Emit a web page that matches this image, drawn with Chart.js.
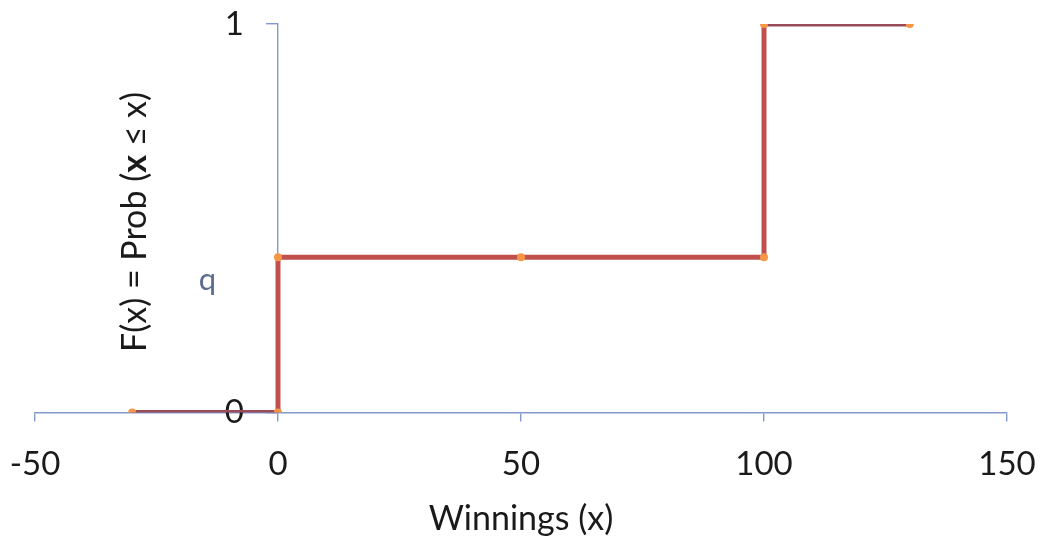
<!DOCTYPE html>
<html>
<head>
<meta charset="utf-8">
<script src="https://cdn.jsdelivr.net/npm/chart.js@4.4.1/dist/chart.umd.min.js"></script>
<style>
  html, body { margin: 0; padding: 0; background: #ffffff; }
  #wrap { width: 1044px; height: 539px; }
</style>
</head>
<body>
<div id="wrap"><canvas id="c" width="1044" height="539"></canvas></div>
<script>
// ---- data ----
const xValues = [-30, 0, 0, 50, 100, 100, 130];
const yValues = [0, 0, 0.4, 0.4, 0.4, 1, 1];
const xTickValues = [-50, 0, 50, 100, 150];
const yTickValues = [0, 1];
const yTickLabels = ['0', '1'];
const xAxisTitle = 'Winnings (x)';
const yAxisTitleParts = [['F(x) = Prob (', false], ['x', true], [' \u2264 x)', false]];
const qLabel = 'q';
const qLabelAt = { x: -14.5, y: 0.34 };

const FONT = 'Lato, "Open Sans", "DejaVu Sans", sans-serif';
const AXIS_BLUE = '#819bd0';
const TEXT = '#1a1a1a';

const points = xValues.map((x, i) => ({ x: x, y: yValues[i] }));

const extraText = {
  id: 'extraText',
  beforeDraw(chart) {
    // move y tick labels away from the crossing axis
    const ys = chart.scales.y;
    const items = ys.getLabelItems(chart.chartArea);
    items.forEach(it => {
      if (!it._shifted) { it.options.translation[0] -= 34; it._shifted = true; }
    });
  },
  afterDraw(chart) {
    const ctx = chart.ctx;
    const xs = chart.scales.x, ys = chart.scales.y;
    // q label
    ctx.save();
    ctx.font = '31px ' + FONT;
    ctx.fillStyle = '#5b6d8c';
    ctx.textAlign = 'center';
    ctx.textBaseline = 'middle';
    ctx.fillText(qLabel, xs.getPixelForValue(qLabelAt.x), ys.getPixelForValue(qLabelAt.y));
    ctx.restore();
    // y axis title with bold x
    ctx.save();
    const cx = 135, cy = 222;
    ctx.translate(cx, cy);
    ctx.rotate(-Math.PI / 2);
    ctx.fillStyle = TEXT;
    ctx.textBaseline = 'middle';
    let total = 0;
    const widths = yAxisTitleParts.map(([t, b]) => {
      ctx.font = (b ? 'bold ' : '') + '34px ' + FONT;
      const w = ctx.measureText(t).width;
      total += w;
      return w;
    });
    let x = -total / 2;
    yAxisTitleParts.forEach(([t, b], i) => {
      ctx.font = (b ? 'bold ' : '') + '34px ' + FONT;
      ctx.textAlign = 'left';
      ctx.fillText(t, x, 0);
      x += widths[i];
    });
    ctx.restore();
  }
};

new Chart(document.getElementById('c'), {
  type: 'scatter',
  data: {
    datasets: [{
      data: points,
      showLine: true,
      borderColor: '#c0504d',
      borderWidth: 5,
      segment: {
        borderColor: (c) => (c.p0.parsed.y === c.p1.parsed.y && (c.p0.parsed.y === 0 || c.p0.parsed.y === 1)) ? '#9a4a58' : undefined
      },
      pointRadius: 4,
      pointBackgroundColor: '#f79646',
      pointBorderColor: '#f79646',
      pointBorderWidth: 0,
      tension: 0
    }]
  },
  options: {
    responsive: false,
    animation: false,
    events: [],
    layout: { padding: { left: 35, right: 37, top: 24, bottom: 0 } },
    plugins: { legend: { display: false }, tooltip: { enabled: false } },
    scales: {
      x: {
        type: 'linear',
        min: -50, max: 150,
        position: 'bottom',
        afterBuildTicks(scale) { scale.ticks = xTickValues.map(v => ({ value: v })); },
        afterFit(scale) { scale.paddingLeft = 0; scale.paddingRight = 0; },
        ticks: {
          color: TEXT,
          font: { family: FONT, size: 33 },
          padding: 23,
          maxRotation: 0,
          autoSkip: false,
          callback: (v) => String(v)
        },
        grid: { drawOnChartArea: false, drawTicks: true, tickLength: 9, color: AXIS_BLUE, lineWidth: 1.4 },
        border: { display: true, color: AXIS_BLUE, width: 1.4 },
        title: { display: true, text: xAxisTitle, color: TEXT, font: { family: FONT, size: 34 }, padding: { top: -9, bottom: 0 } }
      },
      y: {
        type: 'linear',
        min: 0, max: 1,
        position: { x: 0 },
        afterBuildTicks(scale) { scale.ticks = yTickValues.map(v => ({ value: v })); },
        afterFit(scale) { scale.paddingTop = 0; scale.paddingBottom = 0; },
        ticks: {
          color: TEXT,
          font: { family: FONT, size: 33 },
          padding: 24,
          callback: (v) => yTickLabels[yTickValues.indexOf(v)]
        },
        grid: { drawOnChartArea: false, drawTicks: true, tickLength: 11, color: AXIS_BLUE, lineWidth: 1.4 },
        border: { display: true, color: AXIS_BLUE, width: 1.4 }
      }
    }
  },
  plugins: [extraText]
});
</script>
</body>
</html>
